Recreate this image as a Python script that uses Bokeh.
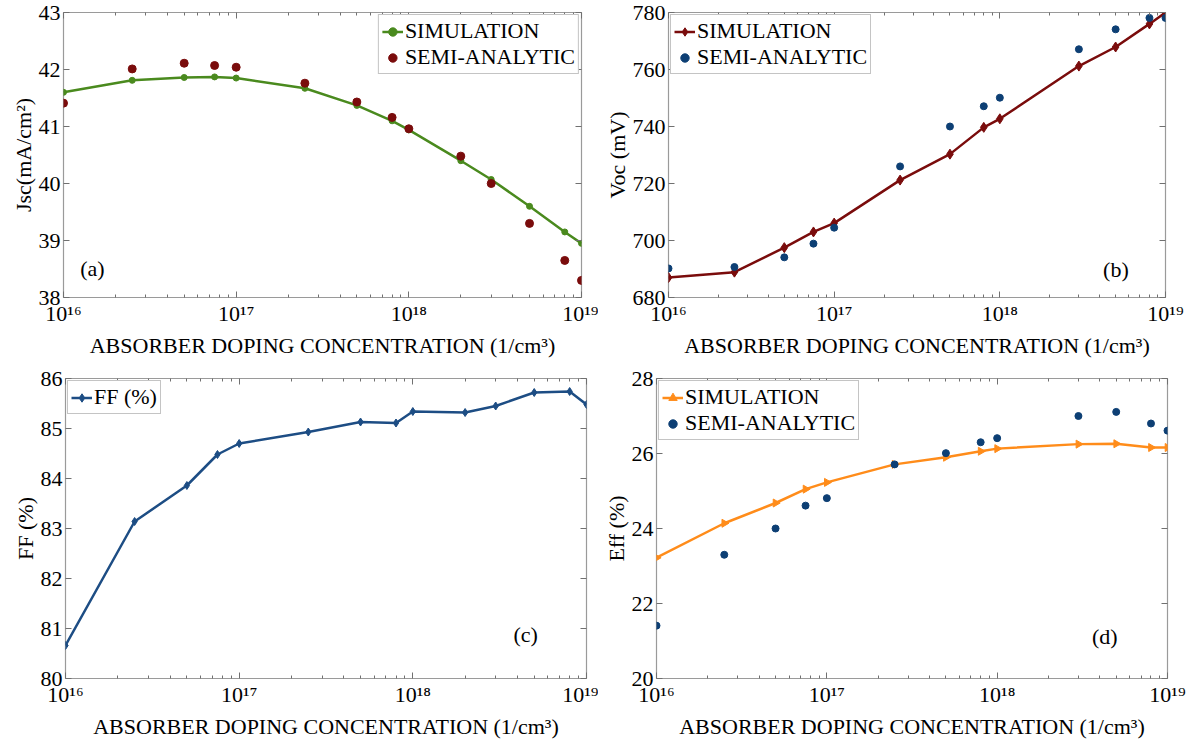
import math
from bokeh.plotting import figure
from bokeh.layouts import column, row
from bokeh.models import (Range1d, FixedTicker, LogAxis, LinearAxis, Legend, LegendItem,
                          CustomJSTickFormatter, Label)
from bokeh.embed import file_html
from bokeh.resources import INLINE

# ---------------- data ----------------
x_full = [1e16, 2.5e16, 5e16, 7.5e16, 1e17, 2.5e17, 5e17, 8e17, 1e18, 2e18, 3e18, 5e18, 8e18, 1e19]
x_short = [1e16, 2.5e16, 5e16, 7.5e16, 1e17, 2.5e17, 5e17, 8e17, 1e18, 3e18, 5e18, 8e18, 1e19]

jsc_sim = [41.60, 41.81, 41.86, 41.87, 41.85, 41.67, 41.37, 41.10, 40.94, 40.40, 40.07, 39.60, 39.15, 38.95]
jsc_semi = [41.41, 42.01, 42.11, 42.07, 42.04, 41.76, 41.43, 41.16, 40.96, 40.48, 40.00, 39.30, 38.65, 38.30]

voc_sim = [687.0, 688.9, 697.5, 703.0, 706.1, 721.2, 730.3, 739.7, 742.7, 761.2, 767.9, 776.0, 780.0]
voc_semi = [690.2, 690.7, 694.1, 698.9, 704.5, 726.0, 740.0, 747.1, 750.1, 767.1, 774.1, 778.1, 778.1]

ff_sim = [80.66, 83.14, 83.86, 84.48, 84.70, 84.93, 85.13, 85.11, 85.34, 85.32, 85.45, 85.72, 85.74, 85.48]

eff_sim = [23.22, 24.14, 24.68, 25.05, 25.23, 25.71, 25.90, 26.06, 26.13, 26.25, 26.26, 26.16, 26.16]
eff_semi = [21.41, 23.30, 24.00, 24.61, 24.81, 25.71, 26.01, 26.30, 26.41, 27.00, 27.11, 26.80, 26.61]

x_ticks = [1e16, 1e17, 1e18, 1e19]
jsc_ticks = [38, 39, 40, 41, 42, 43]
voc_ticks = [680, 700, 720, 740, 760, 780]
ff_ticks = [80, 81, 82, 83, 84, 85, 86]
eff_ticks = [20, 22, 24, 26, 28]

x_label = "ABSORBER DOPING CONCENTRATION (1/cm\u00b3)"
FONT = "'Liberation Serif'"

# panel tag positions (data units, left edge / vertical centre)
tags = {
    "a": (1.25e16, 38.51),
    "b": (4.2e18, 689.8),
    "c": (3.8e18, 80.89),
    "d": (3.6e18, 21.13),
}

minor = [k * 10.0 ** d for d in range(16, 19) for k in range(2, 10)]

sup_js = """
const sup = {'0':'\u2070','1':'\u00b9','2':'\u00b2','3':'\u00b3','4':'\u2074','5':'\u2075','6':'\u2076','7':'\u2077','8':'\u2078','9':'\u2079','-':'\u207b'};
const e = Math.round(Math.log10(tick));
return '10' + String(e).split('').map(c => sup[c]).join('');
"""


def make_fig(w, h, ylo, yhi, yticks, ylabel, bl, br, bt, bb):
    p = figure(width=w, height=h, x_axis_type="log", output_backend="svg",
               toolbar_location=None, x_range=Range1d(1e16, 1e19),
               y_range=Range1d(ylo, yhi), min_border_left=bl, min_border_right=br,
               min_border_top=bt, min_border_bottom=bb)
    p.grid.visible = False
    p.outline_line_color = "#9a9a9a"
    p.outline_line_width = 1.2
    p.background_fill_color = "white"
    p.border_fill_color = "white"

    xt = FixedTicker(ticks=x_ticks, minor_ticks=minor)
    yt = FixedTicker(ticks=yticks, minor_ticks=[])
    p.xaxis.ticker = xt
    p.yaxis.ticker = yt
    p.xaxis.formatter = CustomJSTickFormatter(code=sup_js)
    for ax in (p.xaxis[0], p.yaxis[0]):
        ax.axis_line_color = None
        ax.major_tick_in = 6
        ax.major_tick_out = 0
        ax.minor_tick_in = 3
        ax.minor_tick_out = 0
        ax.major_tick_line_color = "#707070"
        ax.minor_tick_line_color = "#707070"
        ax.major_label_text_font = FONT
        ax.major_label_text_font_size = "22px"
        ax.major_label_text_color = "black"
        ax.axis_label_text_font = FONT
        ax.axis_label_text_font_size = "22px"
        ax.axis_label_text_font_style = "normal"
        ax.axis_label_text_color = "black"
    p.xaxis.major_label_standoff = 3
    p.xaxis.axis_label = x_label
    p.xaxis.axis_label_standoff = 4
    p.yaxis.major_label_standoff = 3
    p.yaxis.axis_label = ylabel
    p.yaxis.axis_label_standoff = 0

    top = LogAxis(ticker=xt, axis_line_color=None,
                  major_tick_in=6, major_tick_out=0, minor_tick_in=3, minor_tick_out=0,
                  major_tick_line_color="#707070", minor_tick_line_color="#707070",
                  major_label_text_font_size="1px", major_label_text_color=None,
                  major_label_standoff=0)
    right = LinearAxis(ticker=yt, axis_line_color=None,
                       major_tick_in=6, major_tick_out=0, minor_tick_in=0, minor_tick_out=0,
                       major_tick_line_color="#707070",
                       major_label_text_font_size="1px", major_label_text_color=None,
                       major_label_standoff=0)
    p.add_layout(top, "above")
    p.add_layout(right, "right")
    return p


def add_legend(p, items, loc):
    lg = Legend(items=items, location=loc)
    lg.label_text_font = FONT
    lg.label_text_font_size = "22px"
    lg.label_text_color = "black"
    lg.border_line_color = "#8a8a8a"
    lg.border_line_width = 1.2
    lg.background_fill_alpha = 1.0
    lg.margin = 2
    lg.padding = 3
    lg.spacing = 0
    lg.label_height = 25
    lg.glyph_height = 25
    lg.glyph_width = 21
    lg.label_standoff = 2
    p.add_layout(lg, "center")


def add_tag(p, key, txt):
    x, y = tags[key]
    p.add_layout(Label(x=x, y=y, text=txt, text_font=FONT, text_font_size="22px",
                       text_baseline="middle", text_align="left", text_color="black"))


GREEN = "#4a8a1e"
DRED = "#7a0c0c"
BLUE = "#0d3f74"
NAVY = "#1d4d84"
ORANGE = "#ff8c1a"

# ---- (a) Jsc ----
pa = make_fig(598, 364, 38, 43, jsc_ticks, "Jsc(mA/cm\u00b2)", 63, 17, 12, 67)
la = pa.line(x_full, jsc_sim, line_color=GREEN, line_width=2.5)
ma = pa.scatter(x_full, jsc_sim, marker="circle", size=6, fill_color=GREEN, line_color=GREEN)
sa = pa.scatter(x_full, jsc_semi, marker="circle", size=8, fill_color=DRED, line_color=DRED)
add_legend(pa, [LegendItem(label="SIMULATION", renderers=[la, ma]),
                LegendItem(label="SEMI-ANALYTIC", renderers=[sa])], "top_right")
add_tag(pa, "a", "(a)")

# ---- (b) Voc ----
pb = make_fig(598, 364, 680, 780, voc_ticks, "Voc (mV)", 70, 31, 11, 66)
lb = pb.line(x_short, voc_sim, line_color=DRED, line_width=2.5)
mb = pb.scatter(x_short, voc_sim, marker="diamond", size=10, fill_color=DRED, line_color=DRED)
sb = pb.scatter(x_short, voc_semi, marker="circle", size=7, fill_color=BLUE, line_color=BLUE)
add_legend(pb, [LegendItem(label="SIMULATION", renderers=[lb, mb]),
                LegendItem(label="SEMI-ANALYTIC", renderers=[sb])], "top_left")
add_tag(pb, "b", "(b)")

# ---- (c) FF ----
pc = make_fig(598, 377, 80, 86, ff_ticks, "FF (%)", 65, 12, 14, 59)
lc = pc.line(x_full, ff_sim, line_color=NAVY, line_width=2.5)
mc = pc.scatter(x_full, ff_sim, marker="diamond", size=8, fill_color=NAVY, line_color=NAVY)
add_legend(pc, [LegendItem(label="FF (%)", renderers=[lc, mc])], "top_left")
add_tag(pc, "c", "(c)")

# ---- (d) Eff ----
pd_ = make_fig(598, 377, 20, 28, eff_ticks, "Eff (%)", 58, 29, 12, 59)
ld = pd_.line(x_short, eff_sim, line_color=ORANGE, line_width=2.5)
md = pd_.scatter(x_short, eff_sim, marker="triangle", size=8, angle=-math.pi / 2,
                 fill_color=ORANGE, line_color=ORANGE)
sd = pd_.scatter(x_short, eff_semi, marker="circle", size=7, fill_color=BLUE, line_color=BLUE)
add_legend(pd_, [LegendItem(label="SIMULATION", renderers=[ld, md]),
                 LegendItem(label="SEMI-ANALYTIC", renderers=[sd])], "top_left")
add_tag(pd_, "d", "(d)")

layout = column(row(pa, pb), row(pc, pd_))

with open("out.html", "w") as f:
    f.write(file_html(layout, INLINE))
